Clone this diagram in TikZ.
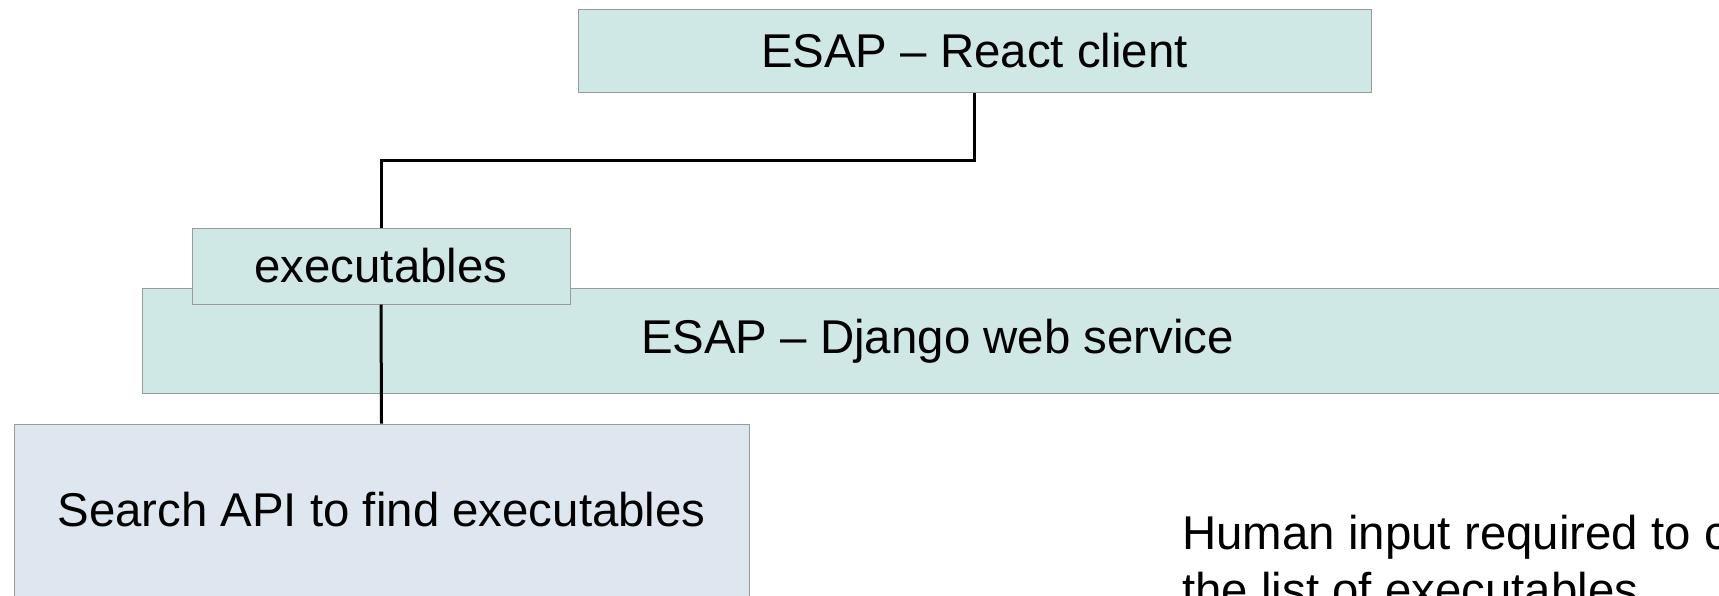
\documentclass[tikz,border=0pt]{standalone}
\usepackage{fontspec}
\setmainfont{Liberation Sans}
\definecolor{tealfill}{HTML}{CFE7E5}
\definecolor{bluefill}{HTML}{DEE6EF}
\definecolor{edgegray}{HTML}{9A9A9A}
\begin{document}
\begin{tikzpicture}[x=0.5pt,y=-0.5pt,
  box/.style={draw=edgegray, line width=0.5pt, inner sep=0pt, text=black,
    font=\fontsize{23.7}{27.5}\selectfont},
  conn/.style={line width=1.5pt, black},
  note/.style={inner sep=0pt, align=left, text=black,
    font=\fontsize{23.7}{28.5}\selectfont}]
\useasboundingbox (0,0) rectangle (1719,595);
\node[box, fill=tealfill, minimum width=396.5pt, minimum height=41.5pt] (react) at (974.5,50.5) {ESAP – React client};
\node[box, fill=tealfill, minimum width=795pt, minimum height=52.6pt] (django) at (937.5,341.3) {ESAP – Django web service};
\node[box, fill=tealfill, minimum width=189pt, minimum height=38pt] (exec) at (381,266) {executables};
\node[box, fill=bluefill, minimum width=367.5pt, minimum height=89pt] (search) at (381.5,513) {\raisebox{4pt}{Search API to find executables}};
\node[note, anchor=base west] (human) at (1182,606) {Human input required to curate\\the list of executables};
\coordinate (bend) at (974.5,160);
\draw[conn] (react.south) -- (bend) -| (exec.north);
\draw[conn] (exec.south) -- (search.north);
\end{tikzpicture}
\end{document}
